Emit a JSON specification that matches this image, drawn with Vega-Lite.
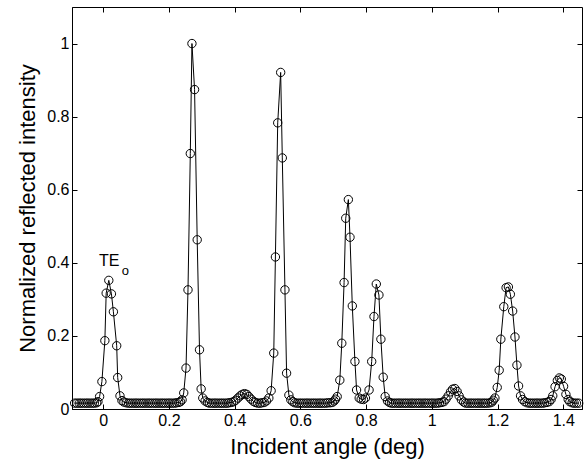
{
"$schema": "https://vega.github.io/schema/vega-lite/v6.json",
"autosize": "none",
"padding": {"left": 72, "top": 7, "right": 4, "bottom": 51},
"width": 510,
"height": 402,
"background": "white",
"config": {
  "view": {"stroke": "black", "strokeWidth": 1},
  "font": "Liberation Sans",
  "axis": {"grid": false, "domainColor": "black", "tickColor": "black", "tickSize": -5, "labelColor": "black", "titleColor": "black", "labelFont": "Liberation Sans", "titleFont": "Liberation Sans", "labelFontSize": 16, "titleFontSize": 22, "titleFontWeight": "normal", "format": "~g"}
},
"datasets": {
  "pts": [
    {"a": -0.087, "r": 0.016}, {"a": -0.08, "r": 0.016}, {"a": -0.073, "r": 0.016}, {"a": -0.067, "r": 0.016}, {"a": -0.06, "r": 0.016}, {"a": -0.053, "r": 0.016}, {"a": -0.047, "r": 0.016}, {"a": -0.04, "r": 0.016}, {"a": -0.033, "r": 0.016}, {"a": -0.027, "r": 0.016}, {"a": -0.02, "r": 0.017}, {"a": -0.016, "r": 0.02},
    {"a": -0.011, "r": 0.034}, {"a": -0.004, "r": 0.075}, {"a": 0.005, "r": 0.187}, {"a": 0.009, "r": 0.317}, {"a": 0.017, "r": 0.352}, {"a": 0.025, "r": 0.315}, {"a": 0.031, "r": 0.266}, {"a": 0.041, "r": 0.173}, {"a": 0.044, "r": 0.086}, {"a": 0.051, "r": 0.036}, {"a": 0.057, "r": 0.023}, {"a": 0.063, "r": 0.019},
    {"a": 0.07, "r": 0.017}, {"a": 0.077, "r": 0.016}, {"a": 0.083, "r": 0.016}, {"a": 0.09, "r": 0.016}, {"a": 0.097, "r": 0.016}, {"a": 0.103, "r": 0.016}, {"a": 0.11, "r": 0.016}, {"a": 0.117, "r": 0.016}, {"a": 0.123, "r": 0.016}, {"a": 0.13, "r": 0.016}, {"a": 0.137, "r": 0.016}, {"a": 0.143, "r": 0.016}, {"a": 0.15, "r": 0.016}, {"a": 0.157, "r": 0.016}, {"a": 0.163, "r": 0.016}, {"a": 0.17, "r": 0.016}, {"a": 0.177, "r": 0.016}, {"a": 0.183, "r": 0.016}, {"a": 0.19, "r": 0.016}, {"a": 0.197, "r": 0.016}, {"a": 0.203, "r": 0.016}, {"a": 0.21, "r": 0.016}, {"a": 0.217, "r": 0.016}, {"a": 0.223, "r": 0.017}, {"a": 0.23, "r": 0.018}, {"a": 0.235, "r": 0.02}, {"a": 0.24, "r": 0.025},
    {"a": 0.245, "r": 0.044}, {"a": 0.252, "r": 0.112}, {"a": 0.258, "r": 0.326}, {"a": 0.265, "r": 0.699}, {"a": 0.27, "r": 1.0}, {"a": 0.278, "r": 0.874}, {"a": 0.286, "r": 0.463}, {"a": 0.293, "r": 0.162}, {"a": 0.298, "r": 0.055}, {"a": 0.303, "r": 0.03}, {"a": 0.31, "r": 0.022}, {"a": 0.317, "r": 0.018},
    {"a": 0.323, "r": 0.016}, {"a": 0.33, "r": 0.016}, {"a": 0.337, "r": 0.016}, {"a": 0.343, "r": 0.016}, {"a": 0.35, "r": 0.016}, {"a": 0.357, "r": 0.016}, {"a": 0.363, "r": 0.016}, {"a": 0.37, "r": 0.016}, {"a": 0.377, "r": 0.016}, {"a": 0.383, "r": 0.017}, {"a": 0.39, "r": 0.018},
    {"a": 0.397, "r": 0.02}, {"a": 0.403, "r": 0.024}, {"a": 0.41, "r": 0.03}, {"a": 0.417, "r": 0.036}, {"a": 0.423, "r": 0.04}, {"a": 0.43, "r": 0.042}, {"a": 0.437, "r": 0.04}, {"a": 0.443, "r": 0.034}, {"a": 0.45, "r": 0.027}, {"a": 0.457, "r": 0.021}, {"a": 0.463, "r": 0.018},
    {"a": 0.47, "r": 0.016}, {"a": 0.477, "r": 0.016}, {"a": 0.483, "r": 0.017}, {"a": 0.49, "r": 0.018}, {"a": 0.497, "r": 0.022},
    {"a": 0.504, "r": 0.03}, {"a": 0.511, "r": 0.05}, {"a": 0.519, "r": 0.153}, {"a": 0.524, "r": 0.416}, {"a": 0.531, "r": 0.783}, {"a": 0.54, "r": 0.921}, {"a": 0.545, "r": 0.687}, {"a": 0.553, "r": 0.326}, {"a": 0.558, "r": 0.098}, {"a": 0.565, "r": 0.038}, {"a": 0.571, "r": 0.025}, {"a": 0.577, "r": 0.02},
    {"a": 0.583, "r": 0.017}, {"a": 0.59, "r": 0.016}, {"a": 0.597, "r": 0.016}, {"a": 0.603, "r": 0.016}, {"a": 0.61, "r": 0.016}, {"a": 0.617, "r": 0.016}, {"a": 0.623, "r": 0.016}, {"a": 0.63, "r": 0.016}, {"a": 0.637, "r": 0.016}, {"a": 0.643, "r": 0.016}, {"a": 0.65, "r": 0.016}, {"a": 0.657, "r": 0.016}, {"a": 0.663, "r": 0.016}, {"a": 0.67, "r": 0.016}, {"a": 0.677, "r": 0.016}, {"a": 0.683, "r": 0.017}, {"a": 0.69, "r": 0.017}, {"a": 0.697, "r": 0.018}, {"a": 0.703, "r": 0.022}, {"a": 0.707, "r": 0.027},
    {"a": 0.712, "r": 0.034}, {"a": 0.72, "r": 0.079}, {"a": 0.726, "r": 0.18}, {"a": 0.733, "r": 0.346}, {"a": 0.738, "r": 0.522}, {"a": 0.746, "r": 0.573}, {"a": 0.751, "r": 0.47}, {"a": 0.758, "r": 0.282}, {"a": 0.766, "r": 0.13}, {"a": 0.771, "r": 0.052}, {"a": 0.779, "r": 0.03}, {"a": 0.785, "r": 0.027}, {"a": 0.792, "r": 0.026}, {"a": 0.798, "r": 0.03}, {"a": 0.809, "r": 0.052}, {"a": 0.817, "r": 0.13}, {"a": 0.824, "r": 0.253}, {"a": 0.831, "r": 0.342}, {"a": 0.839, "r": 0.312}, {"a": 0.845, "r": 0.191}, {"a": 0.852, "r": 0.087}, {"a": 0.858, "r": 0.034}, {"a": 0.865, "r": 0.022}, {"a": 0.871, "r": 0.018},
    {"a": 0.877, "r": 0.016}, {"a": 0.883, "r": 0.016}, {"a": 0.89, "r": 0.016}, {"a": 0.897, "r": 0.016}, {"a": 0.903, "r": 0.016}, {"a": 0.91, "r": 0.016}, {"a": 0.917, "r": 0.016}, {"a": 0.923, "r": 0.016}, {"a": 0.93, "r": 0.016}, {"a": 0.937, "r": 0.016}, {"a": 0.943, "r": 0.016}, {"a": 0.95, "r": 0.016}, {"a": 0.957, "r": 0.016}, {"a": 0.963, "r": 0.016}, {"a": 0.97, "r": 0.016}, {"a": 0.977, "r": 0.016}, {"a": 0.983, "r": 0.016}, {"a": 0.99, "r": 0.016}, {"a": 0.997, "r": 0.016}, {"a": 1.003, "r": 0.016}, {"a": 1.01, "r": 0.016}, {"a": 1.017, "r": 0.016}, {"a": 1.023, "r": 0.017}, {"a": 1.03, "r": 0.018},
    {"a": 1.037, "r": 0.02}, {"a": 1.043, "r": 0.027}, {"a": 1.05, "r": 0.036}, {"a": 1.057, "r": 0.047}, {"a": 1.063, "r": 0.054}, {"a": 1.07, "r": 0.056}, {"a": 1.077, "r": 0.048}, {"a": 1.083, "r": 0.036}, {"a": 1.09, "r": 0.025}, {"a": 1.097, "r": 0.019},
    {"a": 1.103, "r": 0.016}, {"a": 1.11, "r": 0.016}, {"a": 1.117, "r": 0.016}, {"a": 1.123, "r": 0.016}, {"a": 1.13, "r": 0.016}, {"a": 1.137, "r": 0.016}, {"a": 1.143, "r": 0.016}, {"a": 1.15, "r": 0.016}, {"a": 1.157, "r": 0.016}, {"a": 1.163, "r": 0.016}, {"a": 1.17, "r": 0.016}, {"a": 1.177, "r": 0.017}, {"a": 1.183, "r": 0.019}, {"a": 1.187, "r": 0.024},
    {"a": 1.192, "r": 0.03}, {"a": 1.199, "r": 0.059}, {"a": 1.205, "r": 0.106}, {"a": 1.21, "r": 0.191}, {"a": 1.219, "r": 0.28}, {"a": 1.226, "r": 0.332}, {"a": 1.233, "r": 0.334}, {"a": 1.239, "r": 0.314}, {"a": 1.246, "r": 0.268}, {"a": 1.253, "r": 0.197}, {"a": 1.259, "r": 0.12}, {"a": 1.264, "r": 0.063}, {"a": 1.27, "r": 0.036}, {"a": 1.276, "r": 0.026}, {"a": 1.283, "r": 0.02},
    {"a": 1.29, "r": 0.017}, {"a": 1.297, "r": 0.016}, {"a": 1.303, "r": 0.016}, {"a": 1.31, "r": 0.016}, {"a": 1.317, "r": 0.016}, {"a": 1.323, "r": 0.016}, {"a": 1.33, "r": 0.016}, {"a": 1.337, "r": 0.016}, {"a": 1.343, "r": 0.017}, {"a": 1.35, "r": 0.018},
    {"a": 1.357, "r": 0.02}, {"a": 1.363, "r": 0.026}, {"a": 1.368, "r": 0.036}, {"a": 1.375, "r": 0.061}, {"a": 1.382, "r": 0.078}, {"a": 1.388, "r": 0.085}, {"a": 1.394, "r": 0.082}, {"a": 1.401, "r": 0.062}, {"a": 1.408, "r": 0.04}, {"a": 1.415, "r": 0.026}, {"a": 1.42, "r": 0.02}, {"a": 1.427, "r": 0.017}, {"a": 1.433, "r": 0.016}, {"a": 1.44, "r": 0.016}, {"a": 1.447, "r": 0.016}
  ],
  "labels": [
    {"a": 0.018, "r": 0.405, "t": "TE", "s": 16},
    {"a": 0.067, "r": 0.378, "t": "o", "s": 13}
  ]
},
"resolve": {"axis": {"x": "independent", "y": "independent"}},
"layer": [
  {
    "data": {"name": "pts"},
    "mark": {"type": "line", "color": "black", "strokeWidth": 1},
    "encoding": {
      "x": {"field": "a", "type": "quantitative", "scale": {"domain": [-0.095, 1.457], "nice": false, "zero": false},
            "axis": {"values": [0, 0.2, 0.4, 0.6, 0.8, 1, 1.2, 1.4], "format": "~g", "title": "Incident angle (deg)", "labelPadding": 8, "titleBaseline": "alphabetic", "titleY": 44}},
      "y": {"field": "r", "type": "quantitative", "scale": {"domain": [0, 1.1], "nice": false},
            "axis": {"values": [0, 0.2, 0.4, 0.6, 0.8, 1], "format": "~g", "title": "Normalized reflected intensity", "labelPadding": 8, "titleBaseline": "alphabetic", "titleX": -38}}
    }
  },
  {
    "data": {"name": "pts"},
    "mark": {"type": "point", "shape": "circle", "filled": false, "stroke": "black", "strokeWidth": 1, "size": 70, "opacity": 1},
    "encoding": {
      "x": {"field": "a", "type": "quantitative", "axis": null},
      "y": {"field": "r", "type": "quantitative", "axis": null}
    }
  },
  {
    "data": {"name": "labels"},
    "mark": {"type": "text", "color": "black", "align": "center", "baseline": "middle", "font": "Liberation Sans"},
    "encoding": {
      "x": {"field": "a", "type": "quantitative", "axis": null},
      "y": {"field": "r", "type": "quantitative", "axis": null},
      "text": {"field": "t"},
      "size": {"field": "s", "type": "quantitative", "scale": null, "legend": null}
    }
  },
  {
    "data": {"name": "pts"},
    "mark": {"type": "point", "opacity": 0},
    "encoding": {
      "x": {"field": "a", "type": "quantitative", "axis": {"orient": "top", "values": [0, 0.2, 0.4, 0.6, 0.8, 1, 1.2, 1.4], "labels": false, "title": null, "domain": false}},
      "y": {"field": "r", "type": "quantitative", "axis": {"orient": "right", "values": [0, 0.2, 0.4, 0.6, 0.8, 1], "labels": false, "title": null, "domain": false}}
    }
  }
]
}
